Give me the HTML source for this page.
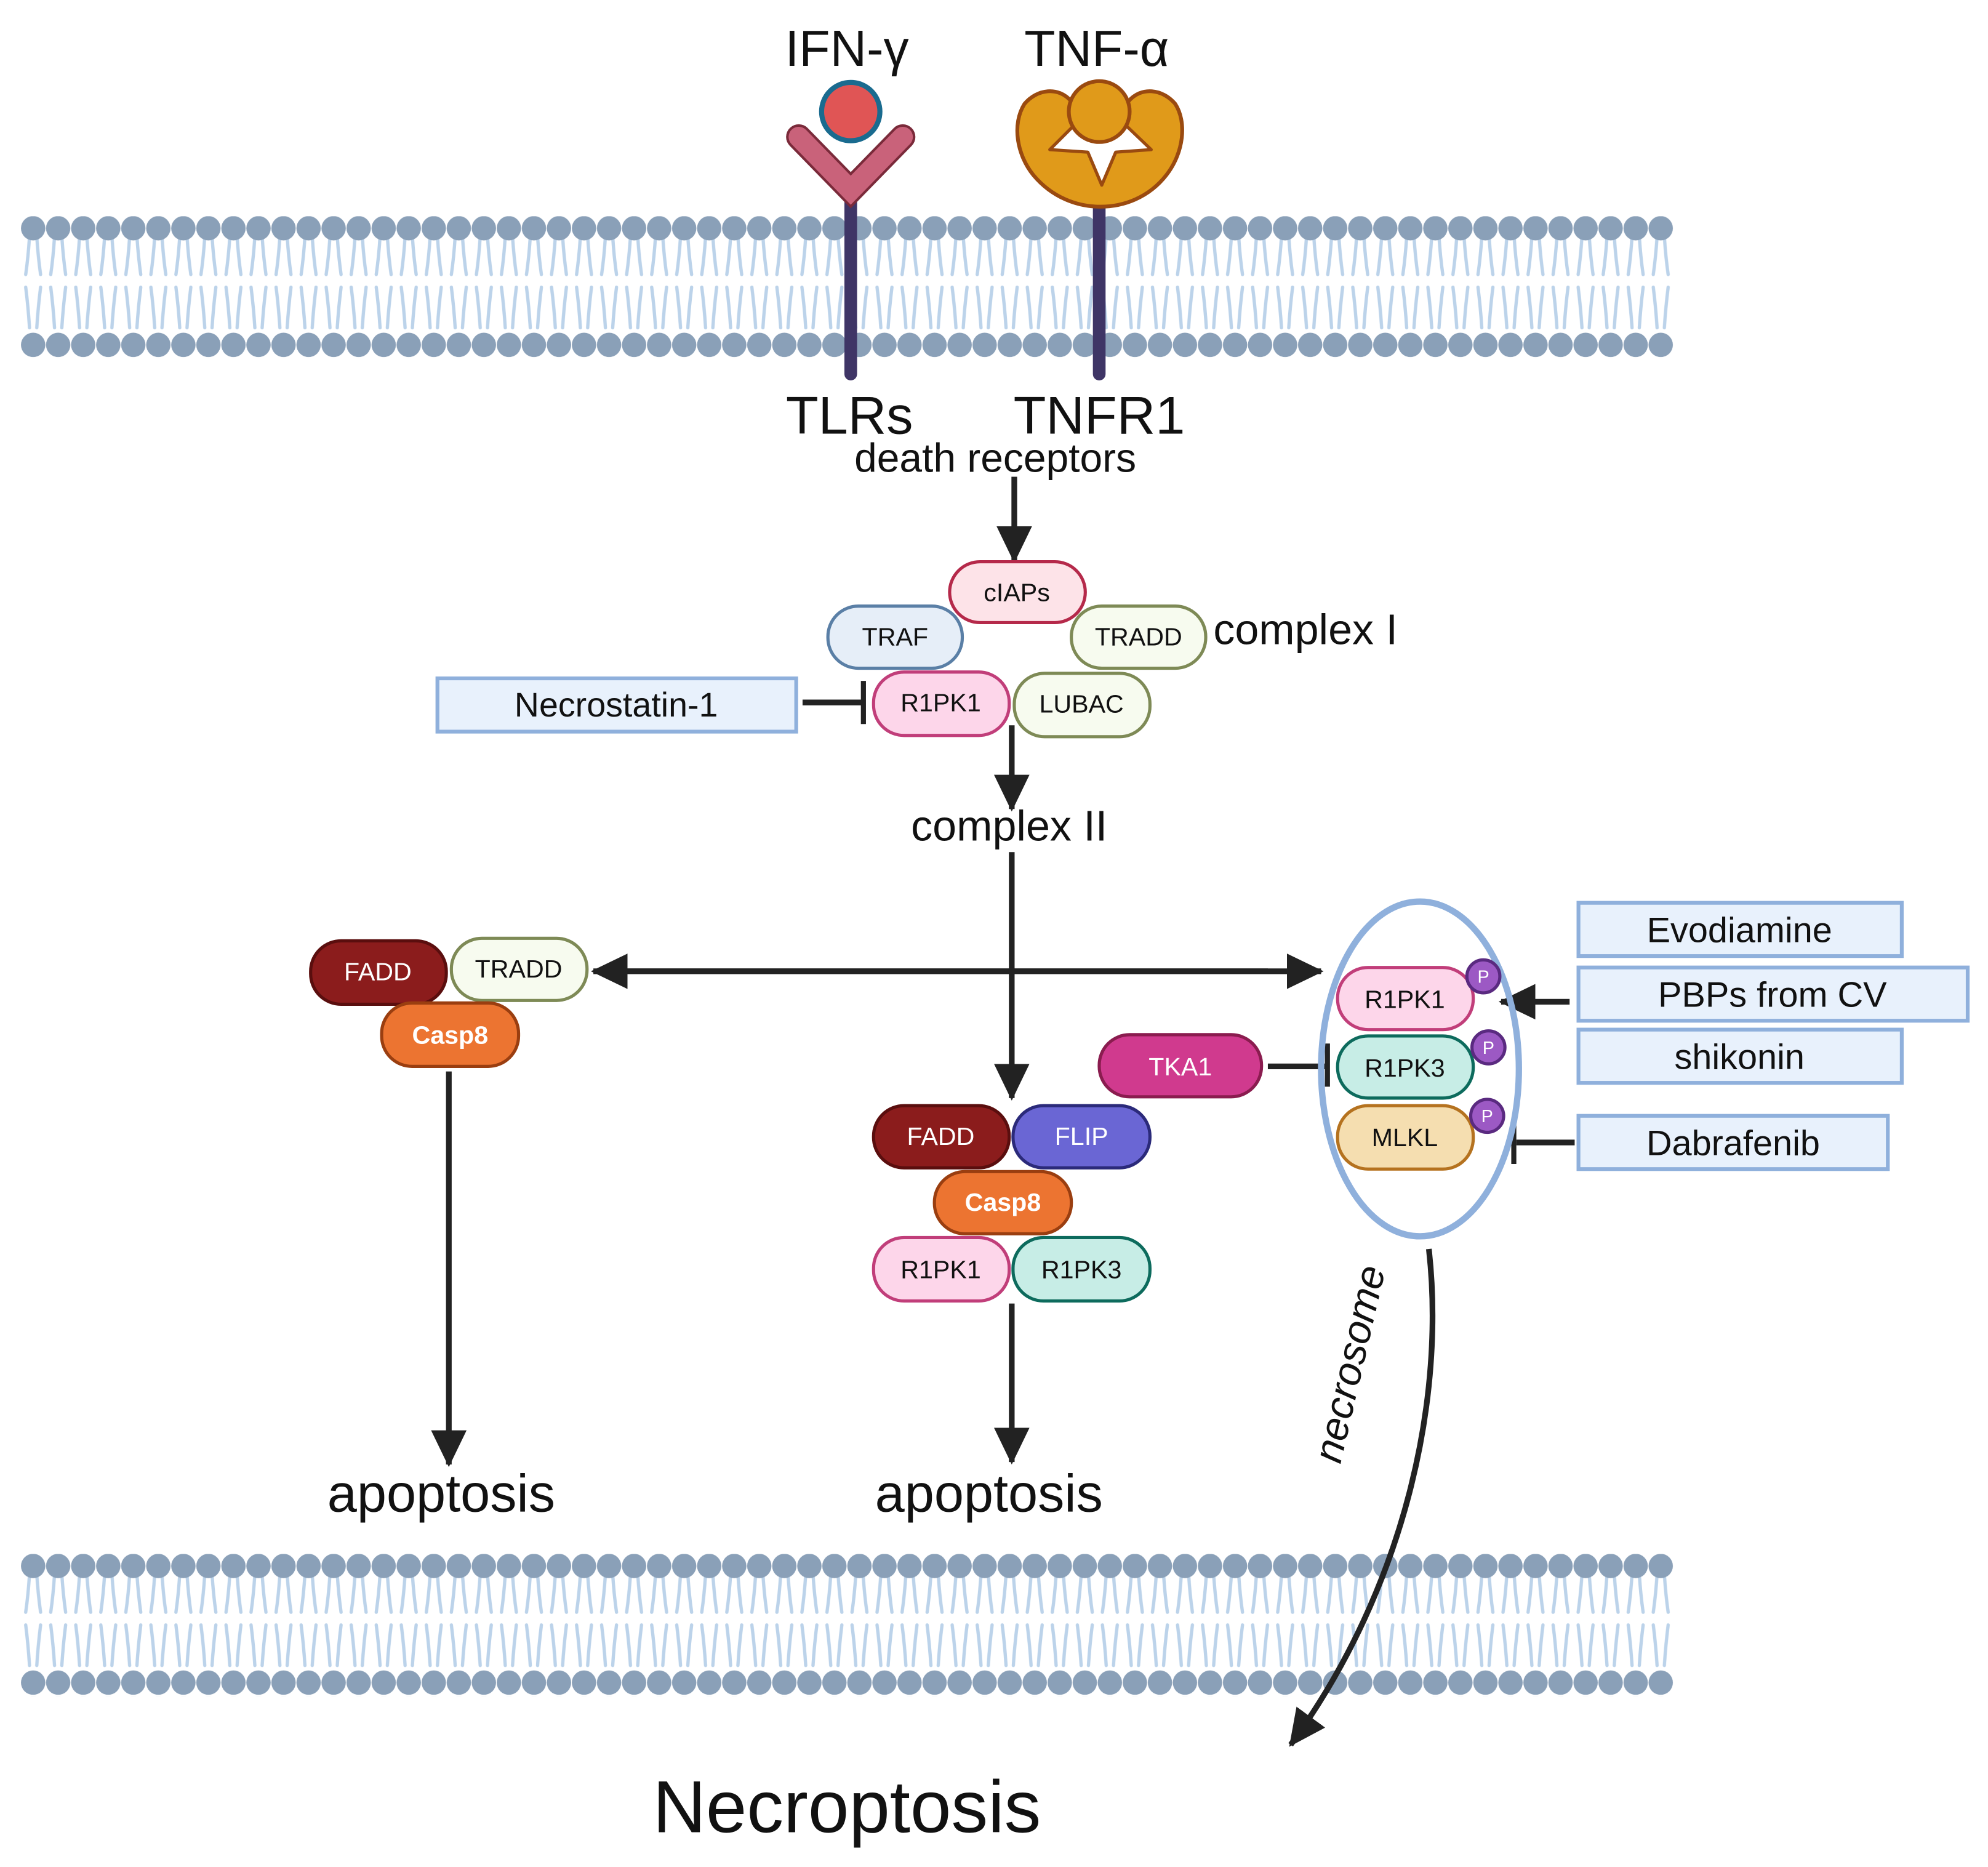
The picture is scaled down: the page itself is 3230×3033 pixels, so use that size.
<!DOCTYPE html>
<html><head><meta charset="utf-8"><style>
html,body{margin:0;padding:0;background:#fff;}
svg{display:block;}
text{font-family:"Liberation Sans",sans-serif;fill:#111;}
</style></head><body>
<svg width="3230" height="3033" viewBox="0 0 1568 1472.4" xmlns="http://www.w3.org/2000/svg">
<defs>
<pattern id="mem1" x="16.25" y="170.5" width="19.75" height="112" patternUnits="userSpaceOnUse">
  <g stroke="#bcd3ea" stroke-width="2.6" fill="none" stroke-linecap="round">
    <path d="M7 16 Q6 32 4 46"/><path d="M12.75 16 Q13.75 32 15.75 46"/>
    <path d="M4 56 Q6 72 7 88"/><path d="M15.75 56 Q13.75 72 12.75 88"/>
  </g>
  <circle cx="9.875" cy="9.5" r="9.6" fill="#8aa0b8"/>
  <circle cx="9.875" cy="101.5" r="9.6" fill="#8aa0b8"/>
</pattern>
<pattern id="mem2" x="16.25" y="1225.5" width="19.75" height="112" patternUnits="userSpaceOnUse">
  <g stroke="#bcd3ea" stroke-width="2.6" fill="none" stroke-linecap="round">
    <path d="M7 16 Q6 32 4 46"/><path d="M12.75 16 Q13.75 32 15.75 46"/>
    <path d="M4 56 Q6 72 7 88"/><path d="M15.75 56 Q13.75 72 12.75 88"/>
  </g>
  <circle cx="9.875" cy="9.5" r="9.6" fill="#8aa0b8"/>
  <circle cx="9.875" cy="101.5" r="9.6" fill="#8aa0b8"/>
</pattern>
<marker id="ah" markerWidth="32" markerHeight="32" refX="27" refY="15" orient="auto" markerUnits="userSpaceOnUse">
  <path d="M0,1 L29,15 L0,29 z" fill="#222"/>
</marker>
</defs>

<rect x="16.25" y="170.5" width="1303.5" height="112" fill="url(#mem1)"/>
<rect x="16.25" y="1225.5" width="1303.5" height="112" fill="url(#mem2)"/>

<text x="668" y="52" font-size="40" text-anchor="middle">IFN-γ</text>
<text x="865" y="52" font-size="40" text-anchor="middle">TNF-α</text>

<line x1="671" y1="150" x2="671" y2="295" stroke="#3f3566" stroke-width="10" stroke-linecap="round"/>
<polyline points="630,108 671,150 712,108" fill="none" stroke="#7a2a3a" stroke-width="20" stroke-linecap="round" stroke-linejoin="miter"/>
<polyline points="630,108 671,150 712,108" fill="none" stroke="#c9627a" stroke-width="16" stroke-linecap="round" stroke-linejoin="miter"/>
<circle cx="671" cy="88" r="23" fill="#e05555" stroke="#1a6b8f" stroke-width="4"/>

<line x1="867" y1="150" x2="867" y2="295" stroke="#3f3566" stroke-width="10" stroke-linecap="round"/>
<path d="M845 80 C835 68 818 70 808 82 C798 98 802 122 815 138 C830 156 850 163 868 163 C886 163 906 156 920 138 C934 120 936 96 927 82 C917 70 900 68 890 80 Z" fill="#e09a1a" stroke="#9a4a10" stroke-width="3"/>
<path d="M828 118 L850 96 L885 96 L908 118 L880 120 L869 146 L858 120 Z" fill="#fff" stroke="#9a4a10" stroke-width="2.5" stroke-linejoin="round"/>
<circle cx="867" cy="88" r="24" fill="#e09a1a" stroke="#9a4a10" stroke-width="3"/>

<text x="670" y="342" font-size="42" text-anchor="middle">TLRs</text>
<text x="867" y="342" font-size="42" text-anchor="middle">TNFR1</text>
<text x="785" y="372" font-size="32" text-anchor="middle">death receptors</text>

<g stroke="#222" stroke-width="4.5" fill="none">
  <line x1="800" y1="376" x2="800" y2="442" marker-end="url(#ah)"/>
  <line x1="798" y1="572" x2="798" y2="638" marker-end="url(#ah)"/>
  <line x1="798" y1="672" x2="798" y2="866" marker-end="url(#ah)"/>
  <line x1="490" y1="766" x2="1042" y2="766" marker-end="url(#ah)"/>
  <line x1="1000" y1="766" x2="468" y2="766" marker-end="url(#ah)"/>
  <line x1="354" y1="845" x2="354" y2="1155" marker-end="url(#ah)"/>
  <line x1="798" y1="1028" x2="798" y2="1153" marker-end="url(#ah)"/>
  <line x1="1238" y1="790" x2="1184" y2="790" marker-end="url(#ah)"/>
  <path d="M1127 985 C1140 1100 1110 1250 1018 1376" marker-end="url(#ah)"/>
  <line x1="633" y1="554" x2="680" y2="554"/>
  <line x1="1000" y1="841" x2="1046" y2="841"/>
  <line x1="1196" y1="901" x2="1242" y2="901"/>
</g>
<g stroke="#222" stroke-width="4">
  <line x1="681" y1="537" x2="681" y2="571"/>
  <line x1="1047" y1="823" x2="1047" y2="857"/>
  <line x1="1194" y1="883" x2="1194" y2="918"/>
</g>

<g stroke-width="2.5">
<rect x="749" y="443" width="107" height="48" rx="24" fill="#fde3e8" stroke="#b5294a"/>
<rect x="653" y="478" width="106" height="49" rx="24" fill="#e6eef8" stroke="#5a7fa6"/>
<rect x="845" y="478" width="106" height="49" rx="24" fill="#f7fbef" stroke="#7e8a56"/>
<rect x="689" y="530" width="107" height="50" rx="24" fill="#fdd6ea" stroke="#c13e7a"/>
<rect x="800" y="531" width="107" height="50" rx="24" fill="#f7fbef" stroke="#7e8a56"/>
</g>
<g font-size="20" text-anchor="middle">
<text x="802" y="474">cIAPs</text>
<text x="706" y="509">TRAF</text>
<text x="898" y="509">TRADD</text>
<text x="742" y="561">R1PK1</text>
<text x="853" y="562">LUBAC</text>
</g>
<text x="957" y="508" font-size="34">complex I</text>
<rect x="345" y="535" width="283" height="42" fill="#e8f1fc" stroke="#8fb0dc" stroke-width="3"/>
<text x="486" y="565" font-size="27" text-anchor="middle">Necrostatin-1</text>
<text x="796" y="663" font-size="34" text-anchor="middle">complex II</text>

<g stroke-width="2.5">
<rect x="245" y="742" width="107" height="50" rx="24" fill="#8b1c1c" stroke="#5a0e0e"/>
<rect x="356" y="740" width="107" height="49" rx="24" fill="#f7fbef" stroke="#7e8a56"/>
<rect x="301" y="791" width="108" height="50" rx="24" fill="#ec7431" stroke="#9a3e10"/>
<rect x="689" y="872" width="107" height="49" rx="24" fill="#8b1c1c" stroke="#5a0e0e"/>
<rect x="799" y="872" width="108" height="49" rx="24" fill="#6a66d4" stroke="#2b2a7a"/>
<rect x="737" y="924" width="108" height="49" rx="24" fill="#ec7431" stroke="#9a3e10"/>
<rect x="689" y="976" width="107" height="50" rx="24" fill="#fdd6ea" stroke="#c13e7a"/>
<rect x="799" y="976" width="108" height="50" rx="24" fill="#c7ede6" stroke="#0d6b5d"/>
</g>
<g font-size="20" text-anchor="middle">
<text x="298" y="773" style="fill:#fff">FADD</text>
<text x="409" y="771">TRADD</text>
<text x="355" y="823" style="fill:#fff;font-weight:bold">Casp8</text>
<text x="742" y="903" style="fill:#fff">FADD</text>
<text x="853" y="903" style="fill:#fff">FLIP</text>
<text x="791" y="955" style="fill:#fff;font-weight:bold">Casp8</text>
<text x="742" y="1008">R1PK1</text>
<text x="853" y="1008">R1PK3</text>
</g>
<text x="348" y="1192" font-size="42" text-anchor="middle">apoptosis</text>
<text x="780" y="1192" font-size="42" text-anchor="middle">apoptosis</text>

<ellipse cx="1120" cy="843" rx="78" ry="132" fill="none" stroke="#8fb0dc" stroke-width="5"/>
<g stroke-width="2.5">
<rect x="1055" y="763" width="107" height="49" rx="24" fill="#fdd6ea" stroke="#c13e7a"/>
<rect x="1055" y="817" width="107" height="49" rx="24" fill="#c7ede6" stroke="#0d6b5d"/>
<rect x="1055" y="872" width="107" height="50" rx="24" fill="#f5deb0" stroke="#b5721f"/>
<rect x="867" y="816" width="128" height="49" rx="24" fill="#d03a8e" stroke="#8a1c4f"/>
<circle cx="1170" cy="770" r="13" fill="#9c59c4" stroke="#5a2a80"/>
<circle cx="1174" cy="826" r="13" fill="#9c59c4" stroke="#5a2a80"/>
<circle cx="1173" cy="880" r="13" fill="#9c59c4" stroke="#5a2a80"/>
</g>
<g font-size="20" text-anchor="middle">
<text x="1108" y="795">R1PK1</text>
<text x="1108" y="849">R1PK3</text>
<text x="1108" y="904">MLKL</text>
<text x="931" y="848" style="fill:#fff">TKA1</text>
</g>
<g font-size="14" text-anchor="middle">
<text x="1170" y="775" style="fill:#fff">P</text>
<text x="1174" y="831" style="fill:#fff">P</text>
<text x="1173" y="885" style="fill:#fff">P</text>
</g>
<g fill="#e8f1fc" stroke="#8fb0dc" stroke-width="3">
<rect x="1245" y="712" width="255" height="42"/>
<rect x="1245" y="763" width="307" height="42"/>
<rect x="1245" y="812" width="255" height="42"/>
<rect x="1245" y="880" width="244" height="42"/>
</g>
<g font-size="28" text-anchor="middle">
<text x="1372" y="743">Evodiamine</text>
<text x="1398" y="794">PBPs from CV</text>
<text x="1372" y="843">shikonin</text>
<text x="1367" y="911">Dabrafenib</text>
</g>
<text x="0" y="0" font-size="32" font-style="italic" text-anchor="middle" transform="translate(1075,1078) rotate(-77)">necrosome</text>
<text x="668" y="1445" font-size="58" text-anchor="middle">Necroptosis</text>
</svg>
</body></html>
